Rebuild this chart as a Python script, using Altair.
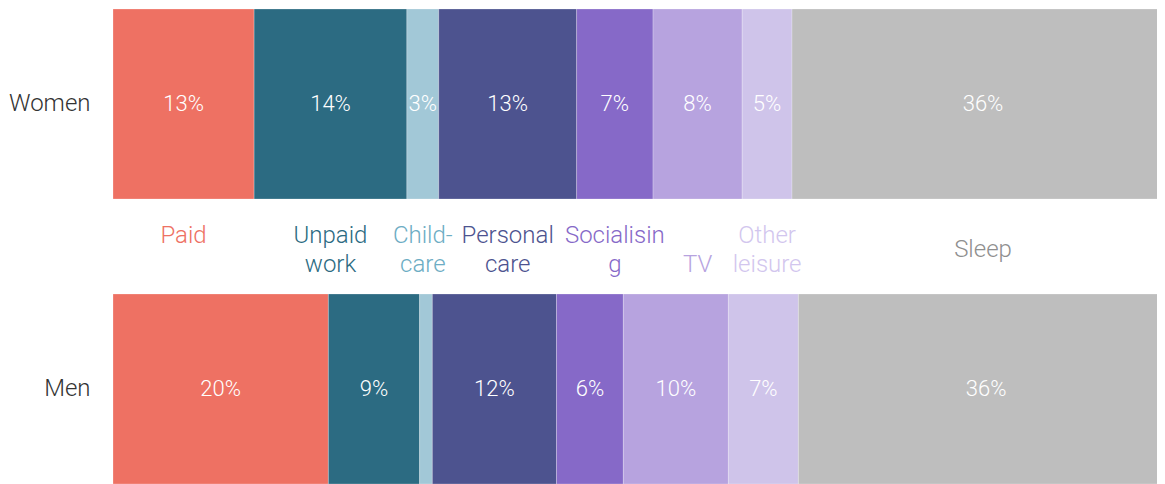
import altair as alt
import pandas as pd

groups = ["Women", "Men"]
categories = ["Paid", "Unpaid work", "Childcare", "Personal care",
              "Socialising", "TV", "Other leisure", "Sleep"]
# two-line labels ("|" = line break); Sleep is drawn on a single centred line
cat_labels = ["Paid", "Unpaid|work", "Child-|care", "Personal|care",
              "Socialisin|g", "|TV", "Other|leisure", "Sleep"]
women_values = [13.3, 14.4, 3.0, 13.0, 7.2, 8.4, 4.7, 36.0]
men_values = [20.3, 8.6, 1.2, 11.7, 6.3, 9.9, 6.6, 35.4]
women_labels = ["13%", "14%", "3%", "13%", "7%", "8%", "5%", "36%"]
men_labels = ["20%", "9%", "", "12%", "6%", "10%", "7%", "36%"]
bar_colors = ["#EE7163", "#2C6B82", "#A2C8D7", "#4D538F",
              "#8669C8", "#B7A3DF", "#CFC4EA", "#BEBEBE"]
text_colors = ["#EE7163", "#2C6B82", "#6DADC4", "#4D538F",
               "#8669C8", "#B7A3DF", "#D2C6EE", "#8F8F8F"]
visible_share = 98.4  # the bars run past the right edge in the reference

rows = []
for g, vals, labs in [("Women", women_values, women_labels),
                      ("Men", men_values, men_labels)]:
    start = 0.0
    for i, (c, v, l) in enumerate(zip(categories, vals, labs)):
        rows.append({"group": g, "category": c, "order": i, "start": start,
                     "end": start + v, "mid": start + v / 2, "label": l})
        start += v
df = pd.DataFrame(rows)

women_df = df[df.group == "Women"].copy()
women_df["catlabel"] = cat_labels
women_df["labelcat"] = [c + " " for c in categories]

FONT = "Roboto Light, Roboto"

xscale = alt.Scale(domain=[0, visible_share], nice=False, zero=True)
yscale = alt.Scale(domain=groups, paddingInner=0.3333, paddingOuter=0)
cscale = alt.Scale(domain=categories, range=bar_colors)
tscale = alt.Scale(domain=[c + " " for c in categories], range=text_colors)

base = alt.Chart(df)

bars = base.mark_bar(clip=True, stroke="white", strokeWidth=0.4,
                     strokeOpacity=0.6).encode(
    x=alt.X("start:Q", scale=xscale, axis=None),
    x2="end:Q",
    y=alt.Y("group:N", scale=yscale, sort=groups, title=None,
            axis=alt.Axis(domain=False, ticks=False, labelFont=FONT,
                          labelFontSize=24, labelFontWeight=300,
                          labelColor="#333333", labelPadding=23)),
    color=alt.Color("category:N", scale=cscale, legend=None),
)

pct = base.mark_text(font=FONT, fontSize=22, fontWeight=300,
                     color="white", baseline="middle", align="center").encode(
    x=alt.X("mid:Q", scale=xscale),
    y=alt.Y("group:N", scale=yscale, sort=groups),
    text="label:N",
)

cat_enc = dict(
    x=alt.X("mid:Q", scale=xscale),
    y=alt.Y("group:N", scale=yscale, sort=groups),
    text="catlabel:N",
    color=alt.Color("labelcat:N", scale=tscale, legend=None),
)

cats_two = alt.Chart(women_df).transform_filter(
    alt.datum.category != "Sleep"
).mark_text(
    font=FONT, fontSize=24, fontWeight=300, baseline="middle",
    align="center", lineBreak="|", lineHeight=29, yOffset=132,
).encode(**cat_enc)

cats_one = alt.Chart(women_df).transform_filter(
    alt.datum.category == "Sleep"
).mark_text(
    font=FONT, fontSize=24, fontWeight=300, baseline="middle",
    align="center", yOffset=146,
).encode(**cat_enc)

chart = alt.layer(bars, pct, cats_two, cats_one).resolve_scale(
    color="independent"
).properties(
    width=1044, height=475,
    autosize=alt.AutoSizeParams(type="none"),
    padding={"left": 105, "top": 1, "right": 0, "bottom": 0},
).configure_view(stroke=None)

chart.save("out.html", embed_options={"renderer": "svg", "actions": False})
